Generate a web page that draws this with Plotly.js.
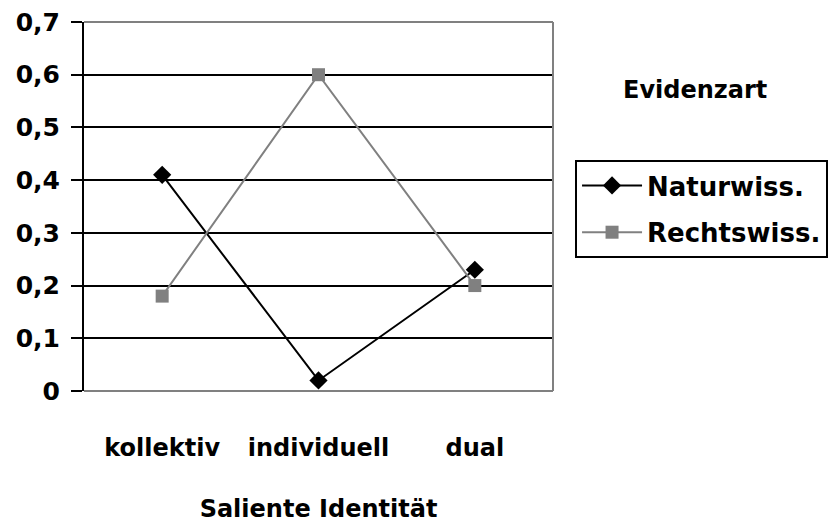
<!DOCTYPE html>
<html>
<head>
<meta charset="utf-8">
<script src="https://cdn.plot.ly/plotly-3.0.1.min.js"></script>
<style>html,body{margin:0;padding:0;background:#fff;}#chart{width:834px;height:523px;}</style>
</head>
<body>
<div id="chart"></div>
<script>
const categories = ['kollektiv', 'individuell', 'dual'];
const naturwiss = [0.41, 0.02, 0.23];
const rechtswiss = [0.18, 0.60, 0.20];
const seriesNames = ['Naturwiss.', 'Rechtswiss.'];
const yTickVals = [0, 0.1, 0.2, 0.3, 0.4, 0.5, 0.6, 0.7];
const yTickLabels = ['0', '0,1', '0,2', '0,3', '0,4', '0,5', '0,6', '0,7'];
const xTitle = 'Saliente Identität';
const legendTitle = 'Evidenzart';

const FONT = 'DejaVu Sans, Arial, sans-serif';

const traces = [
  {
    x: categories, y: naturwiss, name: seriesNames[0], type: 'scatter', mode: 'lines+markers',
    line: {color: '#000000', width: 2},
    marker: {symbol: 'diamond', size: 14, color: '#000000'},
    legendgroup: 'a'
  },
  {
    x: categories, y: rechtswiss, name: seriesNames[1], type: 'scatter', mode: 'lines+markers',
    line: {color: '#808080', width: 2},
    marker: {symbol: 'square', size: 13, color: '#808080'},
    legendgroup: 'b'
  }
];

const layout = {
  width: 834, height: 523,
  margin: {l: 84, r: 281, t: 22, b: 132, autoexpand: false},
  paper_bgcolor: '#ffffff', plot_bgcolor: '#ffffff',
  font: {family: FONT, size: 24, color: '#000000', weight: 'bold'},
  showlegend: true,
  xaxis: {
    type: 'category', range: [-0.5, 2.5],
    showgrid: false, zeroline: false, showline: false, ticks: '',
    tickfont: {family: FONT, size: 24, color: '#000', weight: 'bold'},
    ticklabelstandoff: 40,
    title: {text: xTitle, font: {family: FONT, size: 24, color: '#000', weight: 'bold'}, standoff: 42},
    fixedrange: true
  },
  yaxis: {
    range: [0, 0.7], tickmode: 'array', tickvals: yTickVals, ticktext: yTickLabels,
    showgrid: true, gridcolor: '#000000', gridwidth: 2, zeroline: false,
    showline: true, linecolor: '#000000', linewidth: 2,
    ticks: 'outside', ticklen: 11, tickwidth: 2, tickcolor: '#000000',
    ticklabelstandoff: 6,
    tickfont: {family: FONT, size: 25, color: '#000', weight: 'bold'},
    fixedrange: true
  },
  legend: {
    x: 1.047, xanchor: 'left', xref: 'paper',
    y: 0.626, yanchor: 'top', yref: 'paper',
    bordercolor: '#000000', borderwidth: 2, bgcolor: '#ffffff',
    font: {family: FONT, size: 26, color: '#000', weight: 'bold'},
    itemwidth: 60, traceorder: 'grouped', tracegroupgap: 10
  },
  shapes: [
    {type: 'line', xref: 'paper', yref: 'paper', x0: 0, x1: 1, y0: 1, y1: 1, line: {color: '#808080', width: 2}},
    {type: 'line', xref: 'paper', yref: 'paper', x0: 1, x1: 1, y0: 0, y1: 1, line: {color: '#808080', width: 2}},
    {type: 'line', xref: 'paper', yref: 'paper', x0: 0, x1: 1, y0: 0, y1: 0, line: {color: '#808080', width: 2}}
  ],
  annotations: [
    {text: legendTitle, xref: 'paper', yref: 'paper', x: 1.302, y: 0.816, xanchor: 'center', yanchor: 'middle',
     showarrow: false, font: {family: FONT, size: 24, color: '#000', weight: 'bold'}}
  ]
};

Plotly.newPlot('chart', traces, layout, {displayModeBar: false, staticPlot: true});
</script>
</body>
</html>
